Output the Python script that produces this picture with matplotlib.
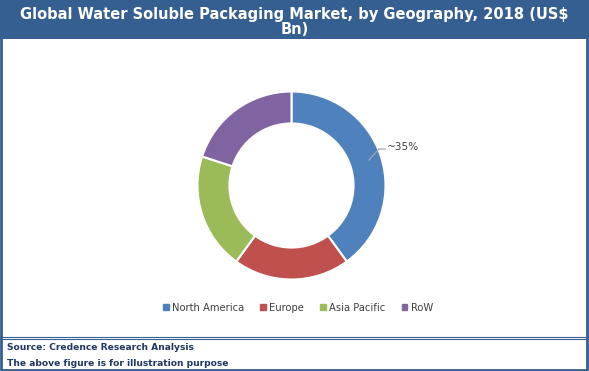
import matplotlib.pyplot as plt
from matplotlib.patches import Rectangle
from matplotlib.lines import Line2D

# data
regions = ['North America', 'Europe', 'Asia Pacific', 'RoW']
shares = [40, 20, 20, 20]
colors = ['#4F81BD', '#C0504D', '#9BBB59', '#8064A2']
label_text = '~35%'

W, H = 589, 371
fig = plt.figure(figsize=(W / 100, H / 100), dpi=100)
fig.patch.set_facecolor('white')

navy = '#365F91'

# title band
fig.patches.append(Rectangle((0, 1 - 39 / H), 1, 39 / H, transform=fig.transFigure,
                             facecolor=navy, edgecolor='none', zorder=0))
fig.text(0.5, 1 - 14 / H, 'Global Water Soluble Packaging Market, by Geography, 2018 (US$',
         ha='center', va='center', color='white', fontsize=10.5, fontweight='bold')
fig.text(0.5, 1 - 30 / H, 'Bn)', ha='center', va='center', color='white',
         fontsize=10.5, fontweight='bold')

# frame around the figure
fig.patches.append(Rectangle((1 / W, 1 / H), 1 - 3 / W, 1 - 3 / H, transform=fig.transFigure,
                             facecolor='none', edgecolor=navy, linewidth=2, zorder=5))
# double line above the source
for yy in (336.5, 338.8):
    fig.lines.append(Line2D([0, 1], [1 - yy / H, 1 - yy / H], transform=fig.transFigure,
                            color=navy, linewidth=0.8))

# donut
cx, cy, r = 291.5, 185.5, 94
ax = fig.add_axes([(cx - r) / W, 1 - (cy + r) / H, 2 * r / W, 2 * r / H])
wedges, _ = ax.pie(shares, colors=colors, startangle=90, counterclock=False, radius=1,
                   wedgeprops=dict(width=0.34, edgecolor='white', linewidth=1.5))
ax.set_xlim(-1, 1)
ax.set_ylim(-1, 1)
ax.set_aspect('auto')
ax.axis('off')

# data label with leader line
fx = lambda px: px / W
fy = lambda py: 1 - py / H
fig.lines.append(Line2D([fx(369), fx(379), fx(385)], [fy(160), fy(149), fy(149)],
                        transform=fig.transFigure, color='#A6A6A6', linewidth=0.9))
fig.text(fx(387), fy(147), label_text, ha='left', va='center', fontsize=7.6, color='#404040')

# legend
leg = fig.legend(handles=[Rectangle((0, 0), 1, 1, color=c) for c in colors], labels=regions,
                 loc='center', bbox_to_anchor=(fx(298), fy(308)), ncol=4, frameon=False,
                 fontsize=7.2, handlelength=0.55, handleheight=0.55, handletextpad=0.35,
                 columnspacing=1.6)
for t in leg.get_texts():
    t.set_color('#404040')

# source notes
src_col = '#1F3864'
fig.text(fx(7), fy(348), 'Source: Credence Research Analysis', ha='left', va='center',
         fontsize=6.6, fontweight='bold', color=src_col)
fig.text(fx(7), fy(364), 'The above figure is for illustration purpose', ha='left',
         va='center', fontsize=6.6, fontweight='bold', color=src_col)

fig.savefig('out.png', dpi=100)
